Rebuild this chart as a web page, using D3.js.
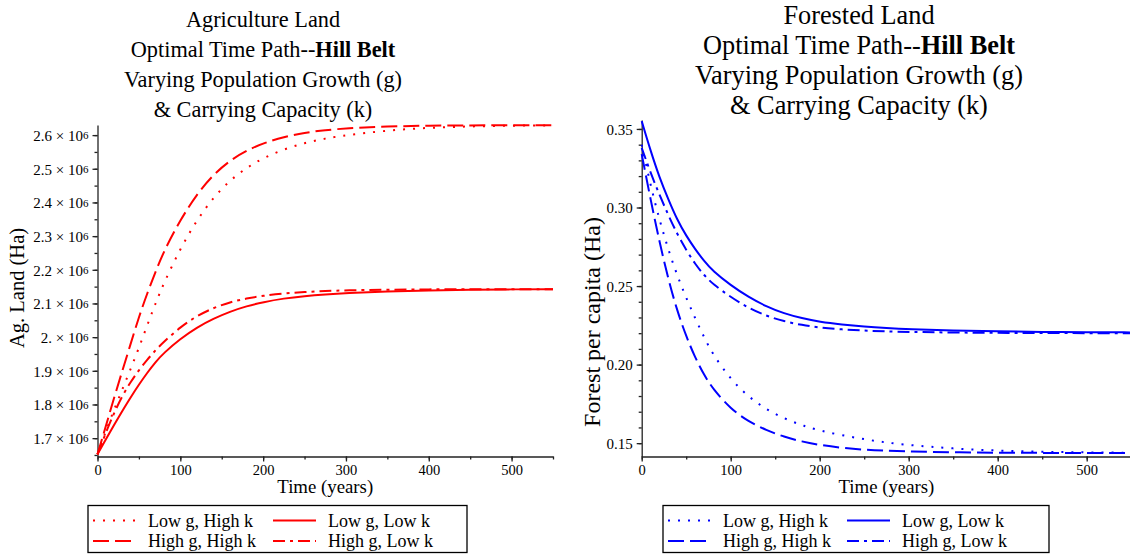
<!DOCTYPE html>
<html>
<head>
<meta charset="utf-8">
<script src="https://cdn.jsdelivr.net/npm/d3@7"></script>
<style>
  body { margin: 0; background: #fff; }
  svg text { font-family: "Liberation Serif", "DejaVu Serif", serif; fill: #000; }
</style>
</head>
<body>
<svg id="chart" width="1130" height="557"></svg>
<script>
// time points (years)
var years = [0, 10, 20, 30, 40, 50, 60, 70, 80, 100, 120, 140, 160, 180, 200, 225, 250, 275, 300, 350, 400, 450, 500, 550];

// agricultural land, millions of ha
var agLowGHighK  = [1.652, 1.72, 1.785, 1.845, 1.905, 1.968, 2.035, 2.1, 2.16, 2.263, 2.348, 2.415, 2.466, 2.503, 2.532, 2.558, 2.577, 2.59, 2.6, 2.614, 2.622, 2.626, 2.628, 2.629];
var agLowGLowK   = [1.652, 1.696, 1.739, 1.781, 1.821, 1.859, 1.894, 1.926, 1.953, 1.995, 2.029, 2.055, 2.076, 2.092, 2.104, 2.115, 2.122, 2.127, 2.131, 2.136, 2.139, 2.141, 2.142, 2.142];
var agHighGHighK = [1.652, 1.735, 1.82, 1.9, 1.98, 2.06, 2.13, 2.193, 2.255, 2.348, 2.425, 2.483, 2.525, 2.554, 2.576, 2.595, 2.607, 2.615, 2.62, 2.626, 2.628, 2.629, 2.629, 2.629];
var agHighGLowK  = [1.652, 1.716, 1.775, 1.826, 1.867, 1.902, 1.933, 1.961, 1.986, 2.03, 2.063, 2.087, 2.104, 2.115, 2.123, 2.13, 2.134, 2.137, 2.139, 2.141, 2.142, 2.142, 2.142, 2.142];

// forest per capita, ha
var fLowGHighK  = [0.340, 0.314, 0.292, 0.273, 0.2565, 0.2425, 0.2295, 0.2175, 0.2065, 0.1905, 0.1795, 0.1715, 0.1657, 0.1613, 0.158, 0.155, 0.1525, 0.1503, 0.1488, 0.1465, 0.1452, 0.1445, 0.1441, 0.1439];
var fLowGLowK   = [0.355, 0.336, 0.319, 0.305, 0.292, 0.282, 0.2735, 0.266, 0.2595, 0.2505, 0.243, 0.237, 0.2325, 0.2295, 0.2272, 0.2255, 0.2242, 0.2233, 0.2226, 0.2217, 0.2211, 0.2208, 0.2206, 0.2205];
var fHighGHighK = [0.334, 0.305, 0.278, 0.254, 0.234, 0.218, 0.2045, 0.1935, 0.1845, 0.1718, 0.1638, 0.1582, 0.154, 0.151, 0.1488, 0.147, 0.1458, 0.1452, 0.1447, 0.1442, 0.1439, 0.1438, 0.1437, 0.1437];
var fHighGLowK  = [0.338, 0.322, 0.308, 0.295, 0.283, 0.273, 0.264, 0.257, 0.2512, 0.243, 0.236, 0.231, 0.2275, 0.2252, 0.2235, 0.2224, 0.2216, 0.2211, 0.2208, 0.2204, 0.2202, 0.2201, 0.22, 0.22];

var seriesNames = ["Low g, High k", "Low g, Low k", "High g, High k", "High g, Low k"];
var xTicks = [0, 100, 200, 300, 400, 500];
var agTicks = [1.7, 1.8, 1.9, 2.0, 2.1, 2.2, 2.3, 2.4, 2.5, 2.6];
var fTicks = [0.15, 0.20, 0.25, 0.30, 0.35];

var dashes = {
  "Low g, High k": "2,8",
  "Low g, Low k": null,
  "High g, High k": "16,6",
  "High g, Low k": "12,5,3,5"
};

var svg = d3.select("#chart");

function drawPanel(opt) {
  var x = d3.scaleLinear().domain([0, 550]).range([opt.left, opt.right]);
  var y = d3.scaleLinear().domain(opt.yDomain).range([456.5, opt.top]);
  var g = svg.append("g");

  // title
  var title = g.append("text")
    .attr("text-anchor", "middle")
    .attr("font-size", opt.titleSize);
  opt.title.forEach(function(line, i) {
    var t = title.append("tspan")
      .attr("x", opt.titleX)
      .attr("y", opt.titleY + i * 30);
    if (Array.isArray(line)) {
      t.text(line[0]);
      title.append("tspan").attr("font-weight", "bold").text(line[1]);
    } else {
      t.text(line);
    }
  });

  // minor ticks
  g.append("g")
    .attr("transform", "translate(0,456.5)")
    .call(d3.axisBottom(x).tickValues(d3.range(0, 551, 50)).tickSize(3).tickFormat(""))
    .call(function(s) { s.select(".domain").remove(); });
  g.append("g")
    .attr("transform", "translate(" + opt.left + ",0)")
    .call(d3.axisLeft(y).tickValues(opt.minor).tickSize(3).tickFormat(""))
    .call(function(s) { s.select(".domain").remove(); });

  // major axes
  var xa = g.append("g")
    .attr("transform", "translate(0,456.5)")
    .call(d3.axisBottom(x).tickValues(xTicks).tickSize(5).tickSizeOuter(0).tickPadding(3));
  xa.selectAll("text").attr("font-size", 14.5);

  var ya = g.append("g")
    .attr("transform", "translate(" + opt.left + ",0)")
    .call(d3.axisLeft(y).tickValues(opt.ticks).tickSize(5).tickSizeOuter(0).tickFormat(""));
  ya.selectAll(".tick").each(function(d) {
    var t = d3.select(this).append("text")
      .attr("x", -9).attr("dy", "0.35em")
      .attr("text-anchor", "end")
      .attr("font-size", 15);
    opt.fmt(t, d);
  });

  g.selectAll(".domain, .tick line").attr("stroke", "#222").attr("stroke-width", 1.3);

  // axis labels
  g.append("text")
    .attr("x", (opt.left + opt.right) / 2).attr("y", 493)
    .attr("text-anchor", "middle").attr("font-size", 18.8)
    .text("Time (years)");
  g.append("text")
    .attr("transform", "translate(" + opt.yLabelX + "," + opt.yLabelY + ") rotate(-90)")
    .attr("text-anchor", "middle").attr("font-size", opt.yLabelSize)
    .text(opt.yLabel);

  // curves
  var line = d3.line()
    .x(function(d) { return x(d[0]); })
    .y(function(d) { return y(d[1]); })
    .curve(d3.curveBasis);

  opt.series.forEach(function(vals, i) {
    g.append("path")
      .datum(years.map(function(t, j) { return [t, vals[j] * opt.scale]; }))
      .attr("d", line)
      .attr("fill", "none")
      .attr("stroke", opt.color)
      .attr("stroke-width", 2)
      .attr("stroke-dasharray", dashes[seriesNames[i]]);
  });

  // legend
  var lg = g.append("g");
  lg.append("rect")
    .attr("x", opt.legend.x).attr("y", 505.5)
    .attr("width", opt.legend.w).attr("height", 47)
    .attr("fill", "none").attr("stroke", "#000").attr("stroke-width", 1.3);
  seriesNames.forEach(function(name, i) {
    var col = i % 2, row = Math.floor(i / 2);
    var lx = opt.legend.x + 5 + col * opt.legend.colW;
    var ly = 520.5 + row * 20.5;
    lg.append("line")
      .attr("x1", lx).attr("x2", lx + 43)
      .attr("y1", ly).attr("y2", ly)
      .attr("stroke", opt.color).attr("stroke-width", 2)
      .attr("stroke-dasharray", dashes[name]);
    lg.append("text")
      .attr("x", lx + 55).attr("y", ly + 6)
      .attr("font-size", 18)
      .text(name);
  });
}

drawPanel({
  left: 97.5, right: 553, top: 125,
  yDomain: [1.6455e6, 2.63e6],
  scale: 1e6,
  ticks: agTicks.map(function(v) { return v * 1e6; }),
  minor: d3.range(1.65, 2.6301, 0.05).map(function(v) { return v * 1e6; }),
  fmt: function(t, d) {
    var m = Math.round(d / 1e5) / 10;
    var s = (m % 1 === 0) ? m + "." : String(m);
    t.append("tspan").text(s + " \u00d7 10");
    t.append("tspan").attr("font-size", 11).attr("dy", "-0.15em").text("6");
  },
  color: "#ff0000",
  series: [agLowGHighK, agLowGLowK, agHighGHighK, agHighGLowK],
  title: ["Agriculture Land", ["Optimal Time Path--", "Hill Belt"], "Varying Population Growth (g)", "& Carrying Capacity (k)"],
  titleX: 263, titleY: 27, titleSize: 22.3,
  yLabel: "Ag. Land (Ha)", yLabelX: 24, yLabelY: 288, yLabelSize: 20.5,
  legend: { x: 88, w: 379, colW: 180 }
});

drawPanel({
  left: 641.7, right: 1131.2, top: 120,
  yDomain: [0.1415, 0.3557],
  scale: 1,
  ticks: fTicks,
  minor: d3.range(0.15, 0.3551, 0.01),
  fmt: function(t, d) { t.text(d3.format(".2f")(d)); },
  color: "#0000ff",
  series: [fLowGHighK, fLowGLowK, fHighGHighK, fHighGLowK],
  title: ["Forested Land", ["Optimal Time Path--", "Hill Belt"], "Varying Population Growth (g)", "& Carrying Capacity (k)"],
  titleX: 859, titleY: 24, titleSize: 26.3,
  yLabel: "Forest per capita (Ha)", yLabelX: 600, yLabelY: 322, yLabelSize: 24,
  legend: { x: 663, w: 386, colW: 179 }
});
</script>
</body>
</html>
